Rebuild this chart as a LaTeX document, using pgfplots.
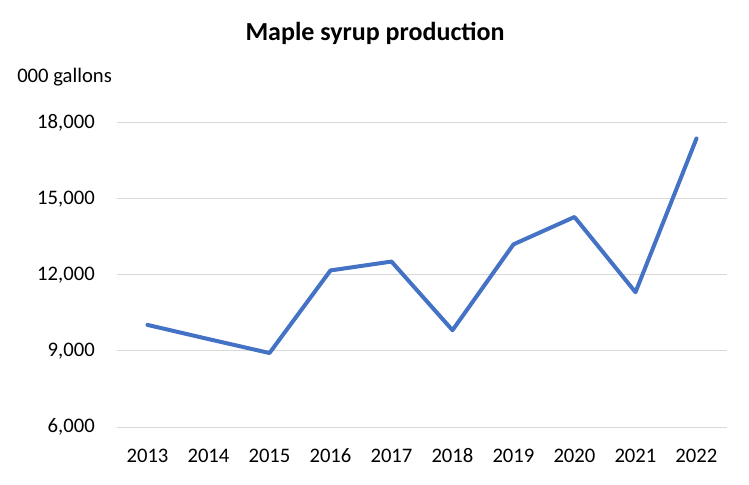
\documentclass[border=0pt]{standalone}
\usepackage{pgfplots}
\pgfplotsset{compat=1.18}
\usepackage{fontspec}
\setmainfont{Carlito}
\definecolor{xlblue}{HTML}{4472C4}
\definecolor{xlgrid}{HTML}{D9D9D9}
\begin{document}
\begin{tikzpicture}
\fontsize{15.5}{18}\selectfont
% picture frame: 749 x 485 px, 1px = 0.75pt, axis origin at px (117,427)
\path[use as bounding box] (-87.75pt,-43.5pt) rectangle (474pt,320.25pt);
\begin{axis}[
  at={(0pt,0pt)}, anchor=origin,
  scale only axis,
  width=457.5pt, height=228pt,
  xmin=2012.5, xmax=2022.5,
  ymin=6000, ymax=18000,
  xtick={2013,...,2022},
  ytick={6000,9000,12000,15000,18000},
  scaled y ticks=false,
  xticklabel={\pgfmathprintnumber[1000 sep=]{\tick}},
  yticklabel={\pgfmathprintnumber[fixed, precision=0, 1000 sep={,}]{\tick}},
  /pgf/number format/assume math mode=true,
  ymajorgrids,
  major grid style={xlgrid, line width=0.75pt},
  axis line style={draw=none},
  major tick style={draw=none},
  xticklabel style={anchor=center, inner sep=0pt, yshift=-21.75pt},
  yticklabel style={anchor=east, inner sep=0pt, xshift=-16.5pt},
  clip=false,
]
\addplot[xlblue, line width=3pt, line join=round, line cap=round] coordinates {
  (2013, 10030)
  (2014, 9470)
  (2015, 8920)
  (2016, 12180)
  (2017, 12530)
  (2018, 9820)
  (2019, 13210)
  (2020, 14290)
  (2021, 11320)
  (2022, 17390)
};
\end{axis}
\node[font=\fontsize{19.5}{22}\selectfont\bfseries] at (193.5pt,295.5pt) {Maple syrup production};
\node[anchor=west, inner sep=0pt] at (-75pt,262.5pt) {000 gallons};
\end{tikzpicture}
\end{document}
